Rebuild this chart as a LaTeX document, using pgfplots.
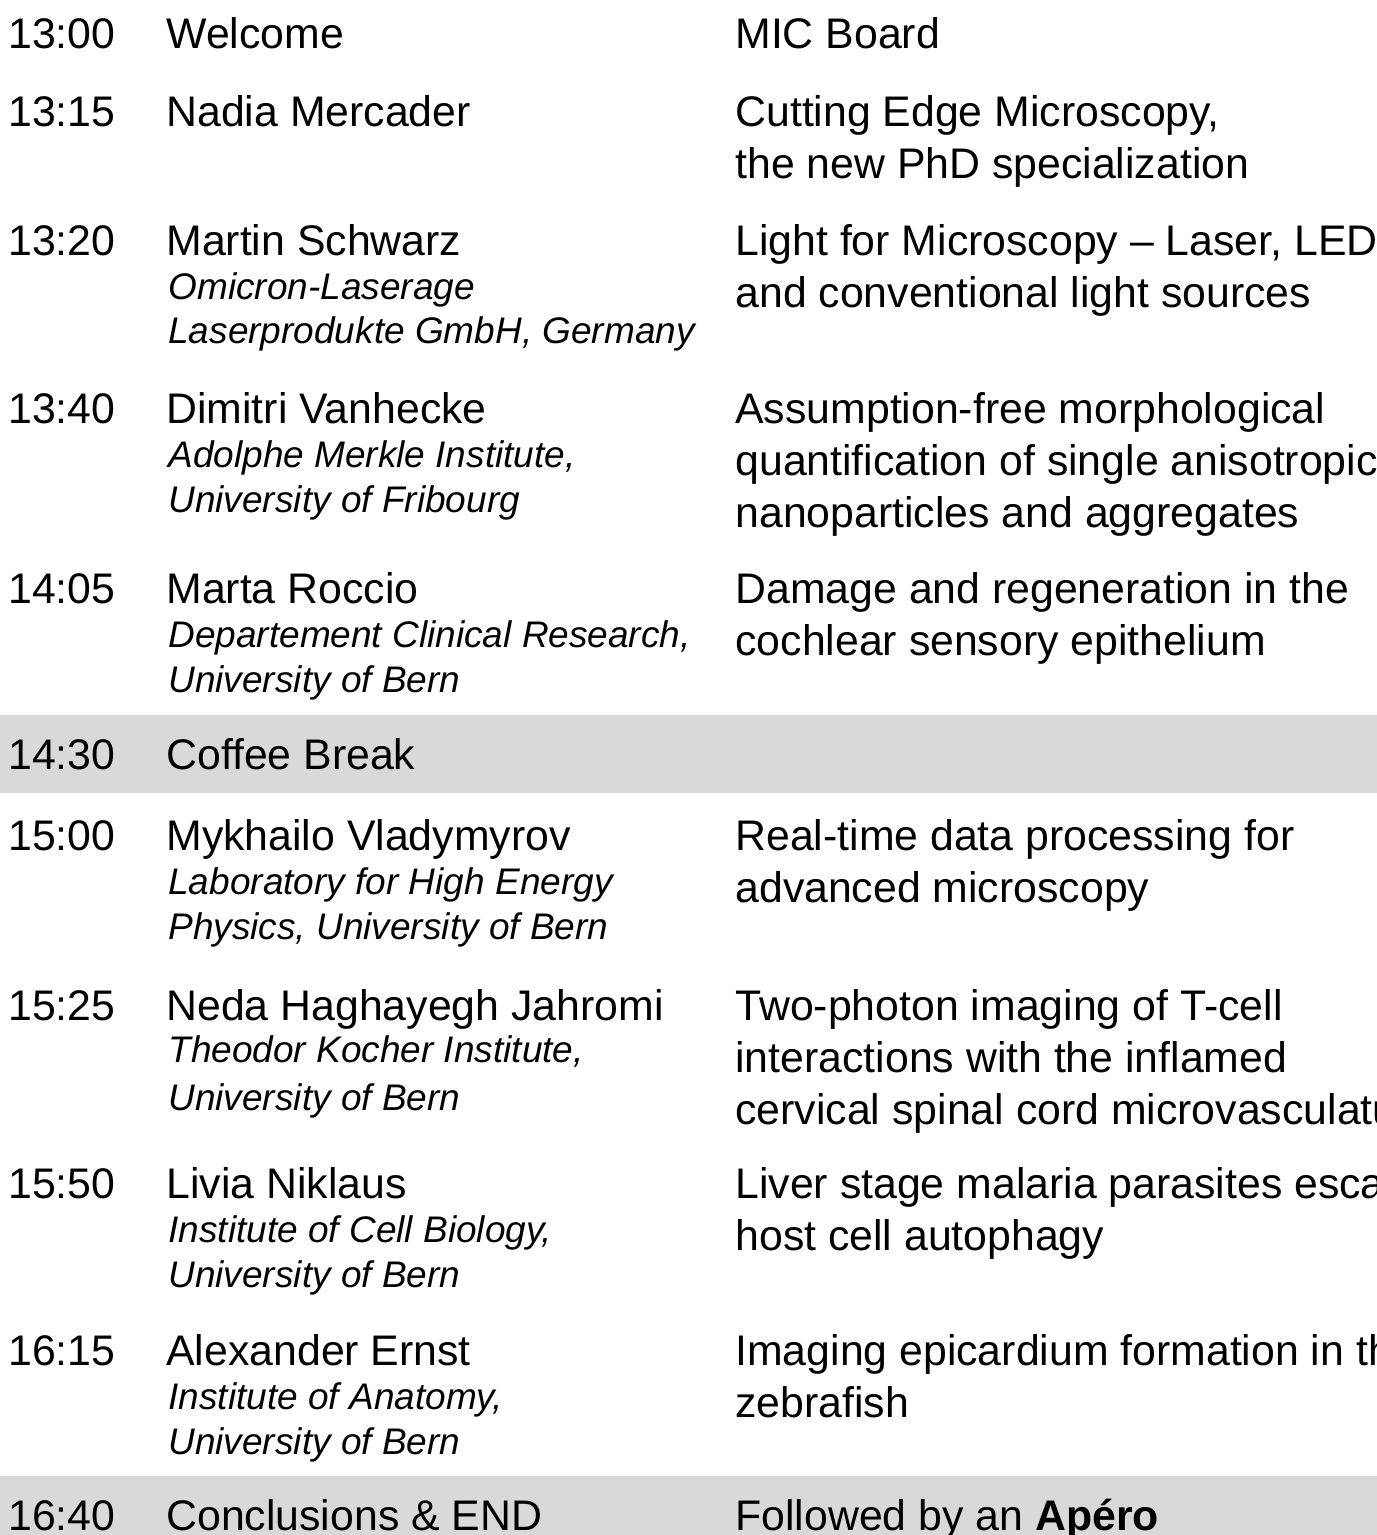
\documentclass[border=0pt]{standalone}
\usepackage{fontspec}
\setmainfont{Liberation Sans}
\usepackage{pgfplots}
\pgfplotsset{compat=1.18}

\definecolor{band}{HTML}{D9D9D9}

% one pixel of the reference = 0.5bp
\tikzset{
  txt/.style={anchor=base west, inner sep=0pt, font=\fontsize{21.4bp}{26bp}\selectfont},
  aff/.style={anchor=base west, inner sep=0pt, font=\fontsize{18.5bp}{22bp}\selectfont\itshape},
}

\begin{document}
\begin{tikzpicture}
\begin{axis}[
    width=688.5bp, height=767.5bp,
    scale only axis,
    hide axis,
    xmin=0, xmax=1377,
    ymin=0, ymax=1535,
    y dir=reverse,
    clip=true,
]
  % grey bands: coffee break and end
  \addplot[fill=band, draw=none] coordinates {(0,715) (1377,715) (1377,793) (0,793)} -- cycle;
  \addplot[fill=band, draw=none] coordinates {(0,1476) (1377,1476) (1377,1535) (0,1535)} -- cycle;

  % times
  \node[txt] at (axis cs:8,48)   {13:00};
  \node[txt] at (axis cs:8,126)  {13:15};
  \node[txt] at (axis cs:8,255)  {13:20};
  \node[txt] at (axis cs:8,423)  {13:40};
  \node[txt] at (axis cs:8,603)  {14:05};
  \node[txt] at (axis cs:8,769)  {14:30};
  \node[txt] at (axis cs:8,850)  {15:00};
  \node[txt] at (axis cs:8,1020) {15:25};
  \node[txt] at (axis cs:8,1198) {15:50};
  \node[txt] at (axis cs:8,1365) {16:15};
  \node[txt] at (axis cs:8,1530) {16:40};

  % speakers
  \node[txt] at (axis cs:166,48)   {Welcome};
  \node[txt] at (axis cs:166,126)  {Nadia Mercader};
  \node[txt] at (axis cs:166,255)  {Martin Schwarz};
  \node[aff] at (axis cs:168,299)  {Omicron-Laserage};
  \node[aff] at (axis cs:168,343)  {Laserprodukte GmbH, Germany};
  \node[txt] at (axis cs:166,423)  {Dimitri Vanhecke};
  \node[aff] at (axis cs:168,467)  {Adolphe Merkle Institute,};
  \node[aff] at (axis cs:168,512)  {University of Fribourg};
  \node[txt] at (axis cs:166,603)  {Marta Roccio};
  \node[aff] at (axis cs:168,647)  {Departement Clinical Research,};
  \node[aff] at (axis cs:168,692)  {University of Bern};
  \node[txt] at (axis cs:166,769)  {Coffee Break};
  \node[txt] at (axis cs:166,850)  {Mykhailo Vladymyrov};
  \node[aff] at (axis cs:168,894)  {Laboratory for High Energy};
  \node[aff] at (axis cs:168,939)  {Physics, University of Bern};
  \node[txt] at (axis cs:166,1020) {Neda Haghayegh Jahromi};
  \node[aff] at (axis cs:168,1062) {Theodor Kocher Institute,};
  \node[aff] at (axis cs:168,1110) {University of Bern};
  \node[txt] at (axis cs:166,1198) {Livia Niklaus};
  \node[aff] at (axis cs:168,1242) {Institute of Cell Biology,};
  \node[aff] at (axis cs:168,1287) {University of Bern};
  \node[txt] at (axis cs:166,1365) {Alexander Ernst};
  \node[aff] at (axis cs:168,1409) {Institute of Anatomy,};
  \node[aff] at (axis cs:168,1454) {University of Bern};
  \node[txt] at (axis cs:166,1530) {Conclusions \& END};

  % talk titles
  \node[txt] at (axis cs:735,48)   {MIC Board};
  \node[txt] at (axis cs:735,126)  {Cutting Edge Microscopy,};
  \node[txt] at (axis cs:735,178)  {the new PhD specialization};
  \node[txt] at (axis cs:735,255)  {Light for Microscopy – Laser, LED};
  \node[txt] at (axis cs:735,307)  {and conventional light sources};
  \node[txt] at (axis cs:735,423)  {Assumption-free morphological};
  \node[txt] at (axis cs:735,475)  {quantification of single anisotropic};
  \node[txt] at (axis cs:735,527)  {nanoparticles and aggregates};
  \node[txt] at (axis cs:735,603)  {Damage and regeneration in the};
  \node[txt] at (axis cs:735,655)  {cochlear sensory epithelium};
  \node[txt] at (axis cs:735,850)  {Real-time data processing for};
  \node[txt] at (axis cs:735,902)  {advanced microscopy};
  \node[txt] at (axis cs:735,1020) {Two-photon imaging of T-cell};
  \node[txt] at (axis cs:735,1072) {interactions with the inflamed};
  \node[txt] at (axis cs:735,1124) {cervical spinal cord microvasculature};
  \node[txt] at (axis cs:735,1198) {Liver stage malaria parasites escape};
  \node[txt] at (axis cs:735,1250) {host cell autophagy};
  \node[txt] at (axis cs:735,1365) {Imaging epicardium formation in the};
  \node[txt] at (axis cs:735,1417) {zebrafish};
  \node[txt] at (axis cs:735,1530) {Followed by an \textbf{Apéro}};
\end{axis}
\pgfresetboundingbox
\path[use as bounding box] (current axis.south west) rectangle (current axis.north east);
\end{tikzpicture}
\end{document}
